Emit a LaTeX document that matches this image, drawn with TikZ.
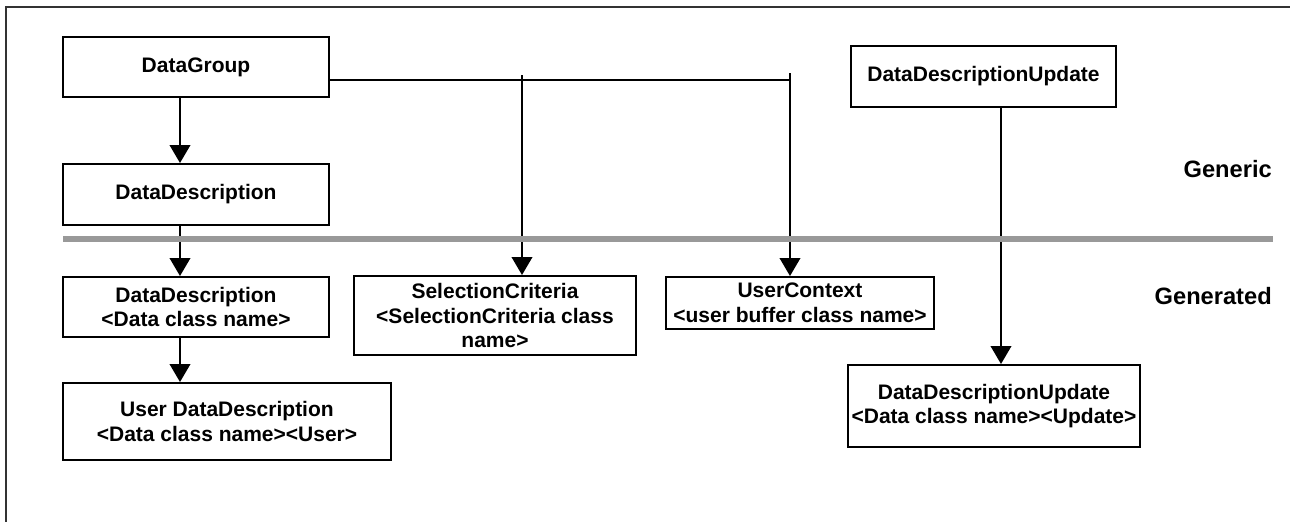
\documentclass[tikz,border=0pt]{standalone}
\usepackage{fontspec}
\setmainfont{Liberation Sans}
\usetikzlibrary{arrows.meta}

\tikzset{
  box/.style={draw, line width=1.5pt, fill=white, inner sep=0.75pt, align=center,
    font=\fontsize{15.75}{18.6}\selectfont\bfseries},
  tag/.style={inner sep=0.75pt, font=\fontsize{17.75}{21}\selectfont\bfseries},
  link/.style={line width=1.3pt},
  conn/.style={link, -{Triangle[width=15.5pt,length=13.5pt]}},
  frame/.style={line width=1.2pt, color={rgb,255:red,51;green,51;blue,51}},
  divider/.style={line width=4.2pt, color={rgb,255:red,153;green,153;blue,153}},
}

\begin{document}
\begin{tikzpicture}[x=0.75pt,y=0.75pt,yscale=-1,xscale=1]
\useasboundingbox (0,0) rectangle (1290,522);

%Straight Lines [page frame]
\draw [frame] (1290,7) -- (6,7) -- (6,522);

%Shape: Rectangle [generic]
\draw (196,67) node (grp) [box, minimum width=199.5pt, minimum height=45pt] {DataGroup};
\draw (196,194.5) node (desc) [box, minimum width=199.5pt, minimum height=45.75pt] {DataDescription};
\draw (983.5,76.5) node (ddu) [box, minimum width=198.75pt, minimum height=45.75pt] {DataDescriptionUpdate};

%Shape: Rectangle [generated]
\draw (196,307) node (descgen) [box, minimum width=199.5pt, minimum height=45pt] {DataDescription\\<Data class name>};
\draw (227,421.5) node (userdesc) [box, minimum width=246pt, minimum height=57.75pt] {User DataDescription\\<Data class name><User>};
\draw (495,315.5) node (selcrit) [box, minimum width=211.5pt, minimum height=59.25pt] {SelectionCriteria\\<SelectionCriteria class\\name>};
\draw (800,303) node (userctx) [box, minimum width=201pt, minimum height=39pt] {UserContext\\<user buffer class name>};
\draw (994,406) node (ddugen) [box, minimum width=219pt, minimum height=61.5pt] {DataDescriptionUpdate\\<Data class name><Update>};

%Straight Lines [left column]
\draw [conn] (grp.south -| 180,0) -- (desc.north -| 180,0);
\draw [conn] (desc.south -| 180,0) -- (descgen.north -| 180,0);
\draw [conn] (descgen.south -| 180,0) -- (userdesc.north -| 180,0);

%Straight Lines [bus from DataGroup]
\coordinate (selTap) at (522,75);
\coordinate (ctxTap) at (790,73);
\draw [link] (grp.east |- 0,80) -- (ctxTap |- 0,80);
\draw [conn] (selTap) -- (selcrit.north -| selTap);
\draw [conn] (ctxTap) -- (userctx.north -| ctxTap);

%Straight Lines [update]
\draw [conn] (ddu.south -| 1001,0) -- (ddugen.north -| 1001,0);

%Straight Lines [divider]
\draw [divider] (63,239) -- (1273,239);

% Text Node
\draw (1273,169) node (generic) [tag, anchor=east] {Generic};
% Text Node
\draw (1273,296) node (generated) [tag, anchor=east] {Generated};

\end{tikzpicture}
\end{document}
